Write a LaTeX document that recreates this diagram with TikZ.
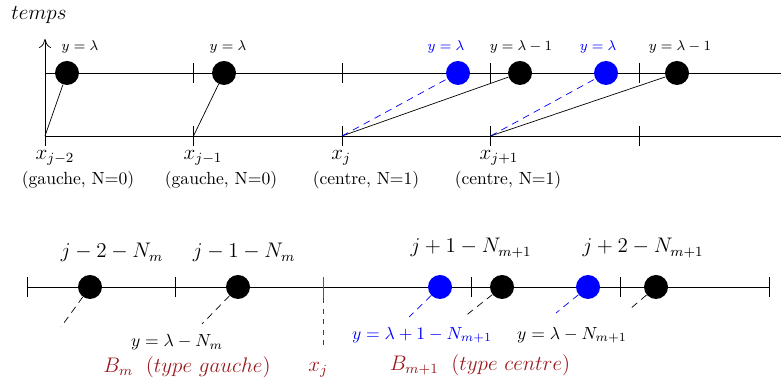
\documentclass[tikz,border=0pt]{standalone}
\usepackage{amsmath}
\usetikzlibrary{arrows.meta}
\definecolor{rouge}{RGB}{155,25,30}
\definecolor{vert}{RGB}{0,150,0}

\begin{document}
\begin{tikzpicture}[
	bille/.style={circle, fill=#1, minimum size=4.8mm, inner sep=0pt},
	bille/.default=black,
	tiret/.style={dash pattern=on 4pt off 3pt},
	lab/.style={font=\footnotesize},
	grand/.style={font=\large}
]
\useasboundingbox (0,0) rectangle (15.62,7.6);

\node[grand] (T) at (0.78,7.3) {$temps$};

% Schema du haut
	\draw[-{To[length=1.8mm, width=2.4mm]}] (0.9,4.88) -- (0.9,6.82);
	\draw (0.9,6.14) -- (15.62,6.14);
	\draw (0.9,4.88) -- (15.62,4.88);

	\foreach \x [count=\i from 0] in {0.9, 3.87, 6.84, 9.81, 12.78} {
		\draw (\x,4.68) -- (\x,5.08);
		\coordinate (p\i) at (\x,4.88);
	}
	\foreach \x in {3.87, 6.84, 9.81, 12.78}
		\draw (\x,5.94) -- (\x,6.34);

	\node[bille] (a0) at (1.34,6.14) {};
	\node[bille] (a1) at (4.48,6.14) {};
	\node[bille=blue] (c2) at (9.16,6.14) {};
	\node[bille] (a2) at (10.4,6.14) {};
	\node[bille=blue] (c3) at (12.12,6.14) {};
	\node[bille] (a3) at (13.54,6.14) {};

	\draw (p0) -- (a0);
	\draw (p1) -- (a1);
	\draw (p2) -- (a2);
	\draw (p3) -- (a3);
	\draw[blue, tiret] (p2) -- (c2);
	\draw[blue, tiret] (p3) -- (c3);

	\node[lab] (l0) at (1.6,6.66) {$y=\lambda$};
	\node[lab] (l1) at (4.56,6.66) {$y=\lambda$};
	\node[lab, blue] (k2) at (8.92,6.66) {$y=\lambda$};
	\node[lab] (l2) at (10.42,6.66) {$y=\lambda-1$};
	\node[lab, blue] (k3) at (11.96,6.66) {$y=\lambda$};
	\node[lab] (l3) at (13.6,6.66) {$y=\lambda-1$};

	\node[grand] (x0) at (1.1,4.44) {$x_{j-2}$};
	\node[grand] (x1) at (4.06,4.44) {$x_{j-1}$};
	\node[grand] (x2) at (6.82,4.44) {$x_{j}$};
	\node[grand] (x3) at (9.98,4.44) {$x_{j+1}$};
	\node (g0) at (1.56,3.99) {(gauche, N=0)};
	\node (g1) at (4.42,3.99) {(gauche, N=0)};
	\node (g2) at (7.32,3.99) {(centre, N=1)};
	\node (g3) at (10.16,3.99) {(centre, N=1)};

% Schema du bas
	\draw (0.54,1.86) -- (15.38,1.86);
	\foreach \x in {0.54, 3.5, 9.42, 12.4, 15.38}
		\draw (\x,1.66) -- (\x,2.06);
	\draw[vert] (6.46,1.64) -- (6.46,2.06);
	\draw[rouge, dash pattern=on 3pt off 3pt] (6.46,1.64) -- (6.46,0.7);

	\node[bille] (b0) at (1.8,1.86) {};
	\node[bille] (b1) at (4.76,1.86) {};
	\node[bille=blue] (e2) at (8.8,1.86) {};
	\node[bille] (b2) at (10.04,1.86) {};
	\node[bille=blue] (e3) at (11.76,1.86) {};
	\node[bille] (b3) at (13.12,1.86) {};

	\coordinate (q0) at (1.22,1.06);
	\coordinate (q1) at (4.04,1.12);
	\coordinate (r2) at (8.18,1.26);
	\coordinate (q2) at (9.28,1.26);
	\coordinate (r3) at (11.12,1.34);
	\coordinate (q3) at (12.6,1.42);

	\draw[tiret] (b0) -- (q0);
	\draw[tiret] (b1) -- (q1);
	\draw[tiret] (b2) -- (q2);
	\draw[tiret] (b3) -- (q3);
	\draw[blue, tiret] (e2) -- (r2);
	\draw[blue, tiret] (e3) -- (r3);

	\node[grand, anchor=base] (n0) at (2.24,2.44) {$j-2-N_m$};
	\node[grand, anchor=base] (n1) at (4.88,2.44) {$j-1-N_m$};
	\node[grand, anchor=base] (n2) at (9.42,2.54) {$j+1-N_{m+1}$};
	\node[grand, anchor=base] (n3) at (12.86,2.54) {$j+2-N_{m+1}$};

	\node (m0) at (3.54,0.76) {$y=\lambda-N_m$};
	\node[blue] (m2) at (8.44,0.9) {$y=\lambda+1-N_{m+1}$};
	\node (m3) at (11.44,0.9) {$y=\lambda-N_{m+1}$};

	\node[grand, rouge] (B0) at (3.74,0.26) {$B_m\ \;(type\ gauche)$};
	\node[grand, rouge] (xj) at (6.36,0.2) {$x_j$};
	\node[grand, rouge] (B1) at (9.6,0.3) {$B_{m+1}\ \;(type\ centre)$};
\end{tikzpicture}
\end{document}
